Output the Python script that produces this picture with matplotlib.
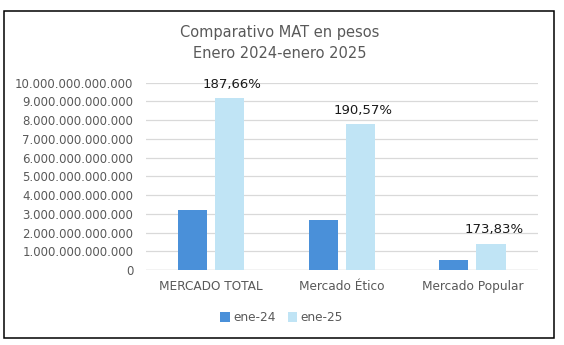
import matplotlib.pyplot as plt
import numpy as np
from matplotlib.patches import Rectangle
from matplotlib.ticker import FuncFormatter, MultipleLocator

# data (pesos)
categories = ['MERCADO TOTAL', 'Mercado Ético', 'Mercado Popular']
ene_24 = [3.19e12, 2.68e12, 0.51e12]
ene_25 = [9.18e12, 7.79e12, 1.40e12]
variation = ['187,66%', '190,57%', '173,83%']

C24 = '#4A90D9'
C25 = '#C0E4F5'
GREY = '#595959'

fig = plt.figure(figsize=(5.64, 3.45), dpi=100)
ax = fig.add_axes([0.2583, 0.2174, 0.6951, 0.5429])

x = np.arange(len(categories))
w = 0.224
off = 0.142
ax.bar(x - off, ene_24, w, color=C24, label='ene-24', zorder=3)
bars25 = ax.bar(x + off, ene_25, w, color=C25, label='ene-25', zorder=3)

for rect, txt in zip(bars25, variation):
    ax.annotate(txt, (rect.get_x() + rect.get_width() / 2, rect.get_height()),
                xytext=(2, 10), textcoords='offset points',
                ha='center', va='center', fontsize=9.5, color='#1a1a1a')

ax.set_xlim(-0.5, 2.5)
ax.set_ylim(0, 10e12)
ax.yaxis.set_major_locator(MultipleLocator(1e12))
ax.yaxis.set_major_formatter(
    FuncFormatter(lambda v, p: f'{int(round(v)):,}'.replace(',', '.')))
ax.set_xticks(x)
ax.set_xticklabels(categories)
ax.tick_params(axis='y', length=0, pad=9, labelsize=8.45, labelcolor=GREY)
ax.tick_params(axis='x', length=0, pad=7, labelsize=8.7, labelcolor=GREY)
ax.grid(axis='y', color='#D9D9D9', linewidth=0.9, zorder=0)
for s in ax.spines.values():
    s.set_visible(False)
ax.axhline(0, color='#D9D9D9', linewidth=1.0, zorder=1)

fig.text(0.4965, 1 - 33 / 345, 'Comparativo MAT en pesos', ha='center',
         va='center', fontsize=10.5, color=GREY)
fig.text(0.4965, 1 - 53 / 345, 'Enero 2024-enero 2025', ha='center',
         va='center', fontsize=10.5, color=GREY)

leg = fig.legend(loc='center', bbox_to_anchor=(0.499, 1 - 317.7 / 345),
                 ncol=2, frameon=False, fontsize=8.7, handlelength=0.8,
                 handleheight=0.8, handletextpad=0.25, columnspacing=1.0)
for t in leg.get_texts():
    t.set_color(GREY)

# outer chart border
fig.patches.append(Rectangle((4 / 564, 1 - 338 / 345), 550 / 564, 327 / 345,
                             transform=fig.transFigure, fill=False,
                             edgecolor='black', linewidth=1.1))

fig.savefig('out.png', dpi=100)
